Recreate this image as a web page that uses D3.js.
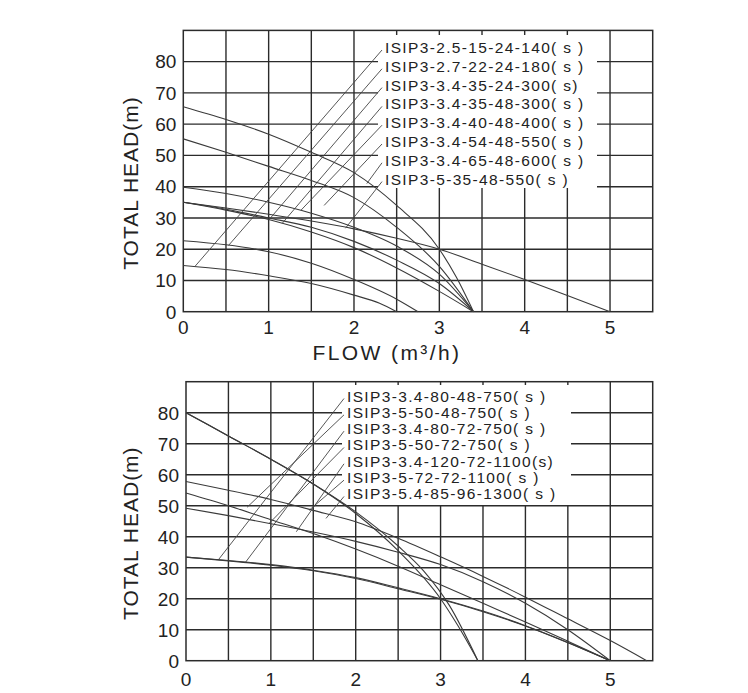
<!DOCTYPE html>
<html>
<head>
<meta charset="utf-8">
<script src="https://cdn.jsdelivr.net/npm/d3@7/dist/d3.min.js"></script>
<style>
  html, body { margin: 0; padding: 0; background: #fff; }
  svg { display: block; }
  text { font-family: "Liberation Sans", Arial, sans-serif; fill: #222; }
</style>
</head>
<body>
<svg id="chart" width="748" height="693"></svg>
<script>
// ---------- shared axis data ----------
const flowTicks = [0, 1, 2, 3, 4, 5];
const headTicks = [0, 10, 20, 30, 40, 50, 60, 70, 80];
const flowGrid = [0.5, 1, 1.5, 2, 2.5, 3, 3.5, 4, 4.5, 5];
const headGrid = [10, 20, 30, 40, 50, 60, 70, 80];
const flowMax = 5.5, headMax = 90;
const xTitle = "FLOW (m³/h)";
const yTitle = "TOTAL HEAD(m)";

// ---------- top chart data ----------
const topLabels = [
  "ISIP3-2.5-15-24-140( s )",
  "ISIP3-2.7-22-24-180( s )",
  "ISIP3-3.4-35-24-300( s)",
  "ISIP3-3.4-35-48-300( s )",
  "ISIP3-3.4-40-48-400( s )",
  "ISIP3-3.4-54-48-550( s )",
  "ISIP3-3.4-65-48-600( s )",
  "ISIP3-5-35-48-550( s )"
];
const topFlow1 = [0, 0.5, 1, 1.5, 2, 2.3, 2.5];
const topHead1 = [14.8, 13.5, 11.5, 9, 5.3, 2.7, 0];
const topFlow2 = [0, 0.5, 1, 1.5, 2, 2.5, 2.75];
const topHead2 = [22.7, 21.4, 19.2, 15.5, 10.3, 4, 0];
const topFlow3 = [0, 0.5, 1, 1.5, 2, 2.5, 3, 3.4];
const topHead3 = [35, 32.5, 29.5, 25.5, 20.5, 14, 6.5, 0];
const topFlow4 = [0, 0.5, 1, 1.5, 2, 2.5, 3, 3.4];
const topHead4 = [35, 32.8, 30, 27, 22.5, 16.5, 9, 0];
const topFlow5 = [0, 0.5, 1, 1.5, 2, 2.5, 3, 3.4];
const topHead5 = [39.8, 37.8, 35, 31.5, 27, 21, 12, 0];
const topFlow6 = [0, 0.5, 1, 1.5, 2, 2.5, 3, 3.4];
const topHead6 = [55.3, 51, 46.5, 42, 36.5, 27, 14.5, 0];
const topFlow7 = [0, 0.5, 1, 1.5, 2, 2.5, 3, 3.2, 3.4];
const topHead7 = [65.6, 61.5, 56.8, 51, 44.5, 34, 20, 11, 0];
const topFlow8 = [0, 0.5, 1, 1.5, 2, 2.5, 3, 3.5, 4, 4.5, 5];
const topHead8 = [35, 33.2, 31.2, 29, 26.5, 23.5, 20, 15.2, 10.3, 5.2, 0];
// where each label's leader line touches the chart (flow, head)
const topLeadFlow = [0.14, 0.53, 1.0, 1.16, 1.38, 1.65, 2.15, 1.9];
const topLeadHead = [14.6, 21.2, 29.3, 28.3, 32.5, 34, 41, 26.7];

// ---------- bottom chart data ----------
const botLabels = [
  "ISIP3-3.4-80-48-750( s )",
  "ISIP3-5-50-48-750( s )",
  "ISIP3-3.4-80-72-750( s )",
  "ISIP3-5-50-72-750( s )",
  "ISIP3-3.4-120-72-1100(s)",
  "ISIP3-5-72-72-1100( s )",
  "ISIP3-5.4-85-96-1300( s )"
];
const botFlow1 = [0, 0.5, 1, 1.5, 2, 2.5, 3, 3.2, 3.44];
const botHead1 = [80, 72.5, 65, 57, 47.5, 35.5, 20, 11.5, 0];
const botFlow2 = [0, 0.5, 1, 1.5, 2, 2.5, 3, 3.5, 4, 4.5, 5];
const botHead2 = [54.1, 50, 45.5, 41, 36, 30.5, 24.5, 18.5, 12.5, 6.3, 0];
const botFlow3 = [0, 0.5, 1, 1.5, 2, 2.5, 2.8, 3.1, 3.44];
const botHead3 = [80, 72.5, 65, 57, 48, 37, 29, 18, 0];
const botFlow4 = [0, 0.5, 1, 1.5, 2, 2.5, 3, 3.5, 4, 4.5, 5];
const botHead4 = [33.4, 32.2, 30.8, 29, 26.5, 23.2, 19.8, 15.8, 11.2, 5.8, 0];
const botFlow5 = [0, 0.5, 1, 1.5, 2, 2.5, 3, 3.5, 4, 4.5, 5];
const botHead5 = [49.2, 46.8, 44.2, 41.5, 38.5, 35, 31, 25.5, 18.5, 10, 0];
const botFlow6 = [0, 0.5, 1, 1.5, 2, 2.5, 3, 3.5, 4, 4.5, 5];
const botHead6 = [33.4, 32.3, 31, 29.2, 26.8, 23.5, 20, 16, 11.3, 5.9, 0];
const botFlow7 = [0, 0.5, 1, 1.5, 2, 2.5, 3, 3.5, 4, 4.5, 5, 5.43];
const botHead7 = [57.8, 55, 52, 48.5, 44.8, 39.5, 33.5, 27.2, 20.5, 13.5, 6.5, 0];
const botLeadFlow = [0.38, 0.72, 0.7, 0.98, 1.3, 1.45, 1.65];
const botLeadHead = [32.5, 49.5, 31.7, 44.3, 41.6, 48.5, 45.9];

// ---------- drawing ----------
const svg = d3.select("#chart");

function pairs(fl, hd) { return fl.map((f, i) => [f, hd[i]]); }

function drawPanel(cfg) {
  const g = svg.append("g");
  const x = d3.scaleLinear().domain([0, flowMax]).range([cfg.left, cfg.right]);
  const y = d3.scaleLinear().domain([0, headMax]).range([cfg.bottom, cfg.top]);
  const gridColor = "#2b2b2b";

  // grid
  g.selectAll("line.v").data(flowGrid).join("line")
    .attr("x1", d => x(d)).attr("x2", d => x(d))
    .attr("y1", y(0)).attr("y2", y(headMax))
    .attr("stroke", gridColor).attr("stroke-width", 1.4);
  g.selectAll("line.h").data(headGrid).join("line")
    .attr("x1", x(0)).attr("x2", x(flowMax))
    .attr("y1", d => y(d)).attr("y2", d => y(d))
    .attr("stroke", gridColor).attr("stroke-width", 1.4);
  g.append("rect")
    .attr("x", x(0)).attr("y", y(headMax))
    .attr("width", x(flowMax) - x(0)).attr("height", y(0) - y(headMax))
    .attr("fill", "none").attr("stroke", gridColor).attr("stroke-width", 1.5);

  // legend background box
  g.append("rect")
    .attr("x", cfg.box[0]).attr("y", cfg.box[1])
    .attr("width", cfg.box[2]).attr("height", cfg.box[3])
    .attr("fill", "#fff");

  // curves
  const line = d3.line().x(d => x(d[0])).y(d => y(d[1])).curve(d3.curveMonotoneX);
  g.selectAll("path.curve").data(cfg.series).join("path")
    .attr("d", d => line(d))
    .attr("fill", "none").attr("stroke", "#3a3a3a").attr("stroke-width", 1.1);

  // leader lines and labels
  cfg.labels.forEach((lab, i) => {
    const by = cfg.labelY0 + cfg.labelStep * i;
    g.append("line")
      .attr("x1", x(cfg.leadFlow[i])).attr("y1", y(cfg.leadHead[i]))
      .attr("x2", cfg.labelX - 3).attr("y2", by - 3)
      .attr("stroke", "#444").attr("stroke-width", 0.9);
    g.append("text")
      .attr("x", cfg.labelX).attr("y", by)
      .attr("font-size", 15.5).attr("letter-spacing", 1.35)
      .text(lab);
  });

  // tick labels
  g.selectAll("text.yt").data(headTicks).join("text")
    .attr("x", cfg.left - 7).attr("y", d => y(d) + 6.8)
    .attr("text-anchor", "end").attr("font-size", 19)
    .text(d => d);
  g.selectAll("text.xt").data(flowTicks).join("text")
    .attr("x", d => x(d)).attr("y", cfg.bottom + cfg.xTickDy)
    .attr("text-anchor", "middle").attr("font-size", 19)
    .text(d => d);

  // axis titles
  g.append("text")
    .attr("transform", `translate(138,${(cfg.top + cfg.bottom) / 2 + 12}) rotate(-90)`)
    .attr("text-anchor", "middle").attr("font-size", 21).attr("letter-spacing", 1)
    .text(yTitle);
  g.append("text")
    .attr("x", 387).attr("y", cfg.bottom + 48.5)
    .attr("text-anchor", "middle").attr("font-size", 21).attr("letter-spacing", 2.4)
    .text(xTitle);
}

drawPanel({
  left: 183.3, right: 652.7, top: 30.4, bottom: 311.7,
  box: [378, 35, 219, 153],
  labels: topLabels, labelX: 385, labelY0: 53, labelStep: 18.8,
  leadFlow: topLeadFlow, leadHead: topLeadHead, xTickDy: 22.5,
  series: [
    pairs(topFlow1, topHead1), pairs(topFlow2, topHead2), pairs(topFlow3, topHead3),
    pairs(topFlow4, topHead4), pairs(topFlow5, topHead5), pairs(topFlow6, topHead6),
    pairs(topFlow7, topHead7), pairs(topFlow8, topHead8)
  ]
});

drawPanel({
  left: 186, right: 652.7, top: 381.7, bottom: 660.7,
  box: [342, 385, 229, 120],
  labels: botLabels, labelX: 347, labelY0: 401.5, labelStep: 16.33,
  leadFlow: botLeadFlow, leadHead: botLeadHead, xTickDy: 25.5,
  series: [
    pairs(botFlow1, botHead1), pairs(botFlow2, botHead2), pairs(botFlow3, botHead3),
    pairs(botFlow4, botHead4), pairs(botFlow5, botHead5), pairs(botFlow6, botHead6),
    pairs(botFlow7, botHead7)
  ]
});
</script>
</body>
</html>
